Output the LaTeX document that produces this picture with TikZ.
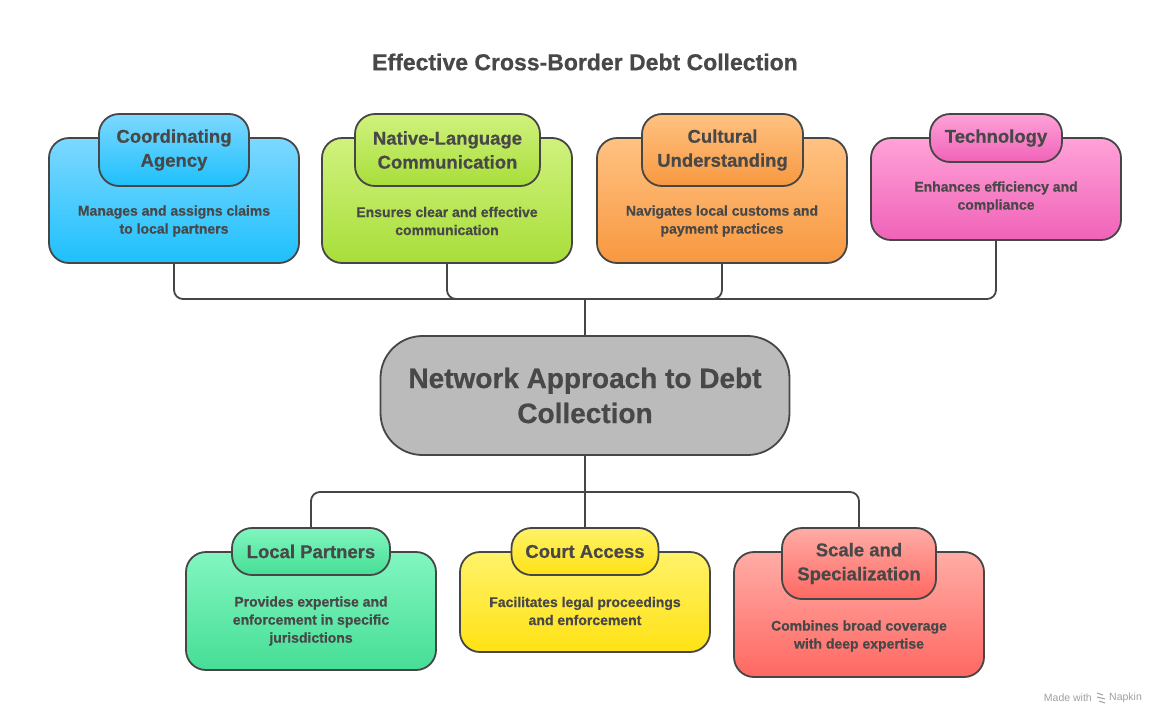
\documentclass[tikz,border=0pt]{standalone}
\usepackage{fontspec}
\setmainfont{Liberation Sans}[BoldFeatures={FakeBold=0.6}]
\definecolor{txt}{RGB}{72,72,72}
\definecolor{edge}{RGB}{70,70,70}
\definecolor{blueT}{RGB}{125,216,255}\definecolor{blueB}{RGB}{30,192,252}
\definecolor{limeT}{RGB}{208,242,125}\definecolor{limeB}{RGB}{168,222,58}
\definecolor{orT}{RGB}{255,194,130}\definecolor{orB}{RGB}{248,152,64}
\definecolor{pinkT}{RGB}{255,162,216}\definecolor{pinkB}{RGB}{240,98,184}
\definecolor{mintT}{RGB}{130,246,192}\definecolor{mintB}{RGB}{70,222,150}
\definecolor{yelT}{RGB}{255,242,105}\definecolor{yelB}{RGB}{255,226,20}
\definecolor{redT}{RGB}{255,172,166}\definecolor{redB}{RGB}{255,104,98}
\definecolor{cgray}{RGB}{187,187,187}
\definecolor{wm}{RGB}{160,160,160}
\tikzset{
  mainbox/.style={draw=edge, line width=1.8pt, rounded corners=20pt, inner sep=0pt, minimum width=250pt},
  tabbox/.style={draw=edge, line width=1.8pt, rounded corners=20pt, inner sep=0pt, text=txt, align=center, font=\bfseries\fontsize{18.5}{24}\selectfont},
  desc/.style={text=txt, align=center, inner sep=0pt, font=\bfseries\fontsize{14}{18}\selectfont},
  conn/.style={draw=edge, line width=1.8pt, rounded corners=9pt},
  grad/.style 2 args={top color=#1, bottom color=#2}
}
\begin{document}
\begin{tikzpicture}[x=1pt,y=-1pt]
\useasboundingbox[fill=white] (0,0) rectangle (1170,726);
\node[text=txt, font=\bfseries\fontsize{23}{26}\selectfont] (title) at (585,62) {Effective Cross-Border Debt Collection};

% top row
\node[mainbox, grad={blueT}{blueB}, minimum height=125pt] (b1) at (174,200.5) {};
\node[tabbox, grad={blueT}{blueB}, minimum width=150pt, minimum height=72pt] (t1) at (174,150) {Coordinating\\Agency};
\node[desc] (d1) at (174,221) {Manages and assigns claims\\to local partners};

\node[mainbox, grad={limeT}{limeB}, minimum height=125pt] (b2) at (447,200.5) {};
\node[tabbox, grad={limeT}{limeB}, minimum width=185pt, minimum height=72pt] (t2) at (447.5,150) {Native-Language\\Communication};
\node[desc] (d2) at (447,221) {Ensures clear and effective\\communication};

\node[mainbox, grad={orT}{orB}, minimum height=125pt] (b3) at (722,200.5) {};
\node[tabbox, grad={orT}{orB}, minimum width=161pt, minimum height=72pt] (t3) at (722.5,150) {Cultural\\Understanding};
\node[desc] (d3) at (722,221) {Navigates local customs and\\payment practices};

\node[mainbox, grad={pinkT}{pinkB}, minimum height=102pt] (b4) at (996,189) {};
\node[tabbox, grad={pinkT}{pinkB}, minimum width=132pt, minimum height=48pt] (t4) at (996,138) {Technology};
\node[desc] (d4) at (996,197) {Enhances efficiency and\\compliance};

% center
\node[draw=edge, line width=1.8pt, fill=cgray, rounded corners=42pt, minimum width=409pt, minimum height=119pt, inner sep=0pt, text=txt, align=center, font=\bfseries\fontsize{28}{35}\selectfont] (c) at (585,395.5) {Network Approach to Debt\\Collection};

% bottom row
\node[mainbox, grad={mintT}{mintB}, minimum height=118pt] (b5) at (311,611) {};
\node[tabbox, grad={mintT}{mintB}, minimum width=158pt, minimum height=47pt] (t5) at (311,551.5) {Local Partners};
\node[desc] (d5) at (311,621) {Provides expertise and\\enforcement in specific\\jurisdictions};

\node[mainbox, grad={yelT}{yelB}, minimum height=100pt] (b6) at (585,602) {};
\node[tabbox, grad={yelT}{yelB}, minimum width=147pt, minimum height=47pt] (t6) at (585,551.5) {Court Access};
\node[desc] (d6) at (585,611) {Facilitates legal proceedings\\and enforcement};

\node[mainbox, grad={redT}{redB}, minimum height=125pt] (b7) at (859,614.5) {};
\node[tabbox, grad={redT}{redB}, minimum width=154pt, minimum height=71pt] (t7) at (859,563.5) {Scale and\\Specialization};
\node[desc] (d7) at (859,636) {Combines broad coverage\\with deep expertise};

% connectors
\coordinate (busT) at (585,299);
\coordinate (busB) at (585,492);
\draw[conn] (b1.south) |- (busT);
\draw[conn] (b4.south) |- (busT);
\draw[conn] (b2.south) |- (busT);
\draw[conn] (b3.south) |- (busT);
\draw[conn] (busT) -- (c.north);
\draw[conn] (c.south) -- (t6.north);
\draw[conn] (t5.north) |- (busB);
\draw[conn] (t7.north) |- (busB);

% watermark
\node[text=wm, font=\fontsize{10.5}{12}\selectfont, anchor=east, inner sep=0pt] (wm1) at (1092,698) {Made with};
\node[text=wm, font=\fontsize{10.5}{12}\selectfont, anchor=west, inner sep=0pt] (wm2) at (1109,698) {Napkin};
\draw[wm, line width=1pt] (1097,693) -- (1103,695) (1097,697) -- (1105,699) (1099,701) -- (1105,703);
\end{tikzpicture}
\end{document}
